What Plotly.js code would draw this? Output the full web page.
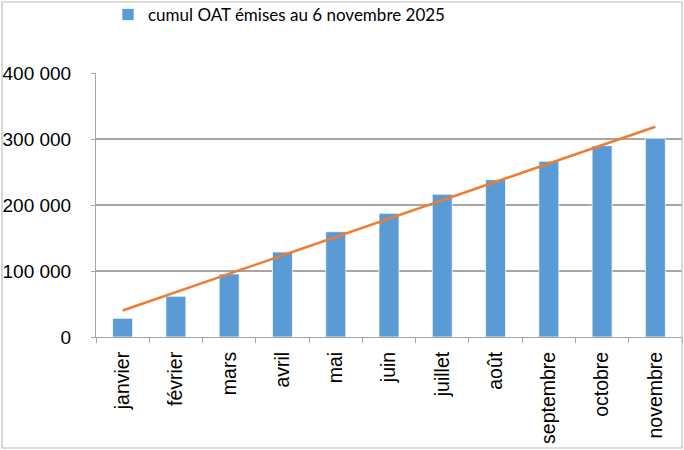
<!DOCTYPE html>
<html>
<head>
<meta charset="utf-8">
<script src="https://cdn.plot.ly/plotly-3.0.1.min.js"></script>
<style>html,body{margin:0;padding:0;background:#fff;}#chart{width:684px;height:450px;}</style>
</head>
<body>
<div id="chart"></div>
<script>
const months = ["janvier","février","mars","avril","mai","juin","juillet","août","septembre","octobre","novembre"];
const cumulOAT = [28300, 61700, 95500, 128800, 159500, 187400, 216200, 238300, 266200, 289900, 301000];
const seriesName = "cumul OAT émises au 6 novembre 2025";
const yTickVals = [0, 100000, 200000, 300000, 400000];
const yTickText = ["0", "100 000", "200 000", "300 000", "400 000"];

// Linear trendline (least squares over month index), as in the spreadsheet chart
const n = cumulOAT.length;
const idx = cumulOAT.map((_, i) => i + 1);
const mx = idx.reduce((a, b) => a + b, 0) / n;
const my = cumulOAT.reduce((a, b) => a + b, 0) / n;
let sxy = 0, sxx = 0;
for (let i = 0; i < n; i++) { sxy += (idx[i] - mx) * (cumulOAT[i] - my); sxx += (idx[i] - mx) ** 2; }
const slope = sxy / sxx, intercept = my - slope * mx;
const trend = idx.map(x => intercept + slope * x);

const W = 684, H = 450;
const m = {l: 96, r: 2, t: 73, b: 113, autoexpand: false};
const pw = W - m.l - m.r, ph = H - m.t - m.b;
const px = v => (v - m.l) / pw;
const py = v => (H - m.b - v) / ph;

const font = "Liberation Sans, Arial, sans-serif";

const traces = [
  {
    type: "bar", x: months, y: cumulOAT, name: seriesName,
    marker: {color: "#5B9BD5", line: {color: "rgba(255,255,255,0.7)", width: 1}},
    hoverinfo: "x+y"
  },
  {
    type: "scatter", mode: "lines", x: months, y: trend, showlegend: false,
    line: {color: "#ED7D31", width: 2.5}, hoverinfo: "skip"
  }
];

const layout = {
  width: W, height: H,
  margin: m,
  paper_bgcolor: "#ffffff", plot_bgcolor: "#ffffff",
  font: {family: font, color: "#000"},
  bargap: 0.625,
  showlegend: true,
  legend: {
    orientation: "h", x: px(108), xanchor: "left", y: py(15), yanchor: "middle",
    font: {family: "Lato, Liberation Sans, sans-serif", size: 17, color: "#000"},
    bgcolor: "rgba(0,0,0,0)", itemwidth: 30
  },
  xaxis: {
    type: "category", tickangle: -90,
    showline: true, linecolor: "#a6a6a6", linewidth: 1,
    ticks: "outside", ticklen: 5, tickcolor: "#a6a6a6", tickson: "boundaries",
    showgrid: false, zeroline: false,
    tickfont: {family: font, size: 19.5, color: "#000"},
    ticklabelstandoff: 6,
    range: [-0.5, 10.5]
  },
  yaxis: {
    range: [0, 400000],
    tickvals: yTickVals, ticktext: yTickText,
    showline: true, linecolor: "#a6a6a6", linewidth: 1,
    ticks: "outside", ticklen: 4, tickcolor: "#a6a6a6",
    showgrid: true, gridcolor: "#a6a6a6", gridwidth: 1.2,
    zeroline: false,
    tickfont: {family: font, size: 19, color: "#000"},
    ticklabelstandoff: 16
  },
  shapes: [{
    type: "rect", xref: "paper", yref: "paper",
    x0: px(2), x1: px(682), y0: py(448), y1: py(2),
    line: {color: "#bdbdbd", width: 1.2}, fillcolor: "rgba(0,0,0,0)", layer: "above"
  }]
};

Plotly.newPlot("chart", traces, layout, {displayModeBar: false, staticPlot: true});
</script>
</body>
</html>
